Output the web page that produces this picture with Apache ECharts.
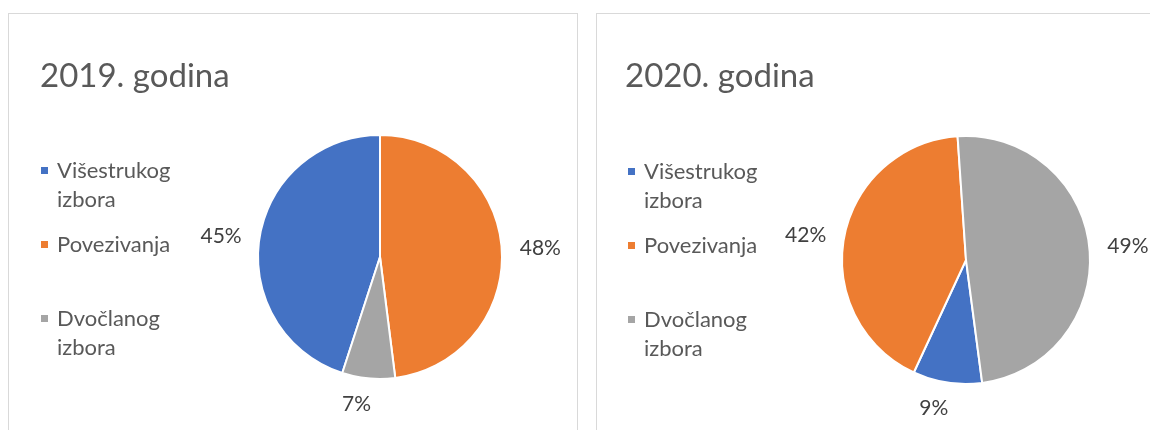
<!DOCTYPE html>
<html>
<head>
<meta charset="utf-8">
<script src="https://cdn.jsdelivr.net/npm/echarts@6/dist/echarts.min.js"></script>
<style>
  body { margin: 0; background: #fff; width: 1150px; height: 430px; overflow: hidden; position: relative; }
  .panel { position: absolute; top: 13px; height: 440px; border: 1px solid #d9d9d9; box-sizing: border-box; }
  #chart2019 { left: 8px; width: 570px; }
  #chart2020 { left: 596px; width: 600px; }
</style>
</head>
<body>
<div id="chart2019" class="panel"></div>
<div id="chart2020" class="panel"></div>
<script>
// podaci
const categories = ["Višestrukog izbora", "Povezivanja", "Dvočlanog izbora"];
const values2019 = [45, 48, 7];
const values2020 = [9, 42, 49];
const colors = ["#4472C4", "#ED7D31", "#A5A5A5"];

const FONT = "Lato";

function drawPie(domId, title, values, layout) {
  let myChart = echarts.init(document.getElementById(domId));
  let seriesData = categories.map((name, i) => {
    // small slices sit at the bottom, label goes under them
    let small = values[i] < 15;
    return {
      name: name,
      value: values[i],
      label: { distanceToLabelLine: small ? -5 : 5 },
      labelLine: { length: small ? 26 : 13, length2: 0 }
    };
  });
  myChart.setOption({
    animation: false,
    color: colors,
    title: {
      text: title,
      left: layout.titleLeft,
      top: layout.titleTop,
      textStyle: { fontFamily: FONT, fontSize: 33, fontWeight: "normal", color: "#595959" }
    },
    legend: {
      orient: "vertical",
      left: layout.legendLeft,
      top: layout.legendTop,
      padding: 0,
      itemGap: 16,
      itemWidth: 7,
      itemHeight: 7,
      icon: "rect",
      selectedMode: false,
      itemStyle: { borderWidth: 0 },
      // wrapped names: empty first line keeps the square beside the first word
      formatter: function(name) {
        return name.indexOf(" ") > -1 ? "\n" + name.replace(" ", "\n") : name;
      },
      textStyle: {
        fontFamily: FONT,
        fontSize: 22,
        color: "#595959",
        lineHeight: 29,
        padding: [0, 0, 0, 4],
        backgroundColor: "transparent"
      },
      data: categories
    },
    series: [
      {
        type: "pie",
        center: layout.center,
        radius: layout.radius,
        startAngle: layout.startAngle,
        clockwise: true,
        avoidLabelOverlap: false,
        percentPrecision: 0,
        itemStyle: { borderColor: "#ffffff", borderWidth: 2 },
        emphasis: { disabled: true },
        label: {
          show: true,
          position: "outside",
          formatter: "{d}%",
          fontFamily: FONT,
          fontSize: 21,
          color: "#404040"
        },
        labelLine: { show: false },
        data: seriesData
      }
    ]
  });
}

drawPie("chart2019", "2019. godina", values2019, {
  titleLeft: 26, titleTop: 41,
  legendLeft: 32, legendTop: 113,
  center: [371, 243], radius: 122, startAngle: -108
});
drawPie("chart2020", "2020. godina", values2020, {
  titleLeft: 23, titleTop: 41,
  legendLeft: 31, legendTop: 114,
  center: [369, 246], radius: 124, startAngle: -82.5
});
</script>
</body>
</html>
